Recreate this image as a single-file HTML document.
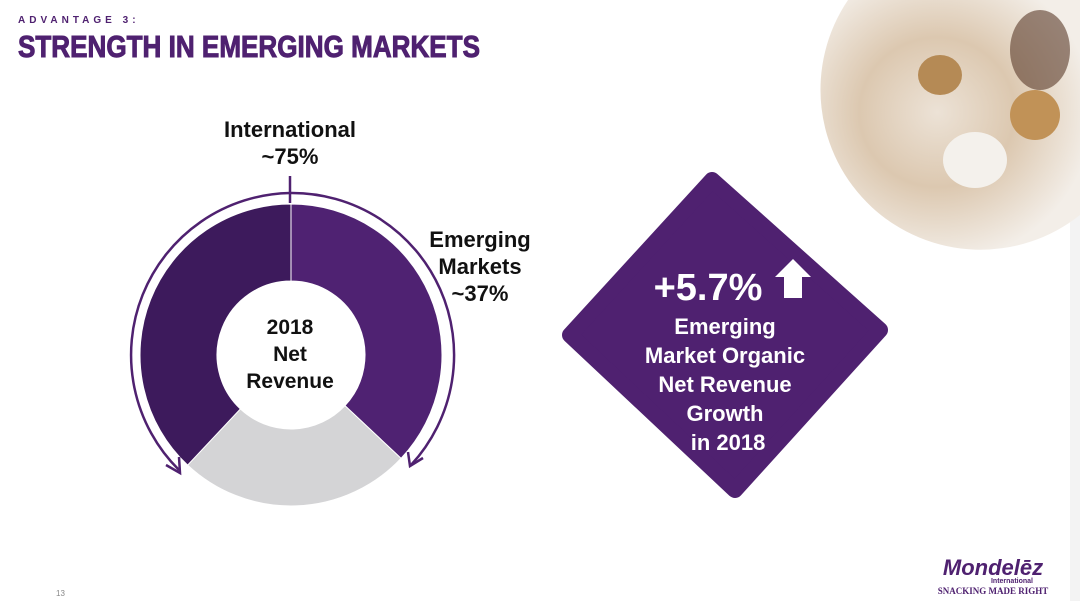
<!DOCTYPE html>
<html><head><meta charset="utf-8"><style>
body{margin:0;width:1080px;height:601px;overflow:hidden;background:#fff;font-family:"Liberation Sans",sans-serif}
.t{position:absolute;font-weight:bold;color:#111;text-align:center;line-height:27px;font-size:22px}
</style></head><body>
<svg width="1080" height="601" style="position:absolute;left:0;top:0">
<defs><radialGradient id="ph" cx="0.45" cy="0.45" r="0.6"><stop offset="0" stop-color="#ece2d6"/><stop offset="0.5" stop-color="#dcc8b0"/><stop offset="1" stop-color="#f3eee8"/></radialGradient></defs>
<rect x="1070" y="0" width="10" height="601" fill="#f3f3f3"/>
<path d="M848 0 L1080 0 L1080 215 A160 160 0 0 1 848 0Z" fill="url(#ph)"/>
<ellipse cx="940" cy="75" rx="22" ry="20" fill="#b58a55"/>
<ellipse cx="1035" cy="115" rx="25" ry="25" fill="#c19257"/>
<ellipse cx="975" cy="160" rx="32" ry="28" fill="#f4f1ec"/>
<ellipse cx="1040" cy="50" rx="30" ry="40" fill="#5a3a2a" opacity="0.6"/>
<text x="18" y="23" font-size="10" font-weight="bold" fill="#4f2170" letter-spacing="4">ADVANTAGE 3:</text>
<text x="18" y="57" font-size="31" font-weight="bold" fill="#4f2170" stroke="#4f2170" stroke-width="1" textLength="462" lengthAdjust="spacingAndGlyphs">STRENGTH IN EMERGING MARKETS</text>
<g id="donut"></g>
<line x1="290" y1="176" x2="290" y2="203" stroke="#4f2170" stroke-width="2.5"/>
<path d="M290 193 A162 162 0 0 0 179 470" fill="none" stroke="#4f2170" stroke-width="2.5"/>
<path d="M166 465 L180 473 L179 457" fill="none" stroke="#4f2170" stroke-width="2.5"/>
<path d="M290 193 A162 162 0 0 1 411 465" fill="none" stroke="#4f2170" stroke-width="2.5"/>
<path d="M408 452 L410 466 L423 458" fill="none" stroke="#4f2170" stroke-width="2.5"/>
<path d="M712 180 L880 330 L735 490 L570 335 Z" fill="#4f2170" stroke="#4f2170" stroke-width="16" stroke-linejoin="round"/>
<path d="M793 259 L811 277 L802 277 L802 298 L784 298 L784 277 L775 277 Z" fill="#fff"/>
<text x="56" y="596" font-size="8" fill="#888">13</text>
<text x="993" y="575" font-size="22" font-weight="bold" fill="#4f2170" text-anchor="middle" font-style="italic">Mondelēz</text>
<text x="1012" y="583" font-size="7" font-weight="bold" fill="#4f2170" text-anchor="middle">International</text>
<text x="993" y="594" font-size="9" font-weight="bold" fill="#4f2170" text-anchor="middle" font-family="Liberation Serif">SNACKING MADE RIGHT</text>
</svg>
<div class="t" style="left:190px;top:116px;width:200px">International<br>~75%</div>
<div class="t" style="left:420px;top:226px;width:120px">Emerging<br>Markets<br>~37%</div>
<div class="t" style="left:230px;top:314px;width:120px;font-size:21px">2018<br>Net<br>Revenue</div>
<div class="t" style="left:638px;top:266px;width:140px;font-size:38px;color:#fff;line-height:44px">+5.7%</div>
<div class="t" style="left:620px;top:312px;width:210px;color:#fff;line-height:29px">Emerging<br>Market Organic<br>Net Revenue<br>Growth<br>&nbsp;in 2018</div>
<script>
const segments=["Emerging Markets","Other Developed","Other International"];
const shares=[37,25,38];
const colors=["#4f2272","#d4d4d6","#3d1a5c"];
const g=document.getElementById('donut');
const cx=291,cy=355,R=151,r=74;
const total=shares.reduce((a,b)=>a+b,0);
let a0=0;
function pt(a,rad){const t=a/total*2*Math.PI;return [cx+rad*Math.sin(t),cy-rad*Math.cos(t)];}
shares.forEach((v,i)=>{
 const a1=a0+v;const large=v/total>0.5?1:0;
 const p1=pt(a0,R),p2=pt(a1,R),p3=pt(a1,r),p4=pt(a0,r);
 const p=document.createElementNS('http://www.w3.org/2000/svg','path');
 p.setAttribute('d',`M${p1} A${R} ${R} 0 ${large} 1 ${p2} L${p3} A${r} ${r} 0 ${large} 0 ${p4}Z`);
 p.setAttribute('fill',colors[i]);
 p.setAttribute('stroke','#fff');p.setAttribute('stroke-width','1');
 
 
 g.appendChild(p);a0=a1;
});
</script>
</body></html>
